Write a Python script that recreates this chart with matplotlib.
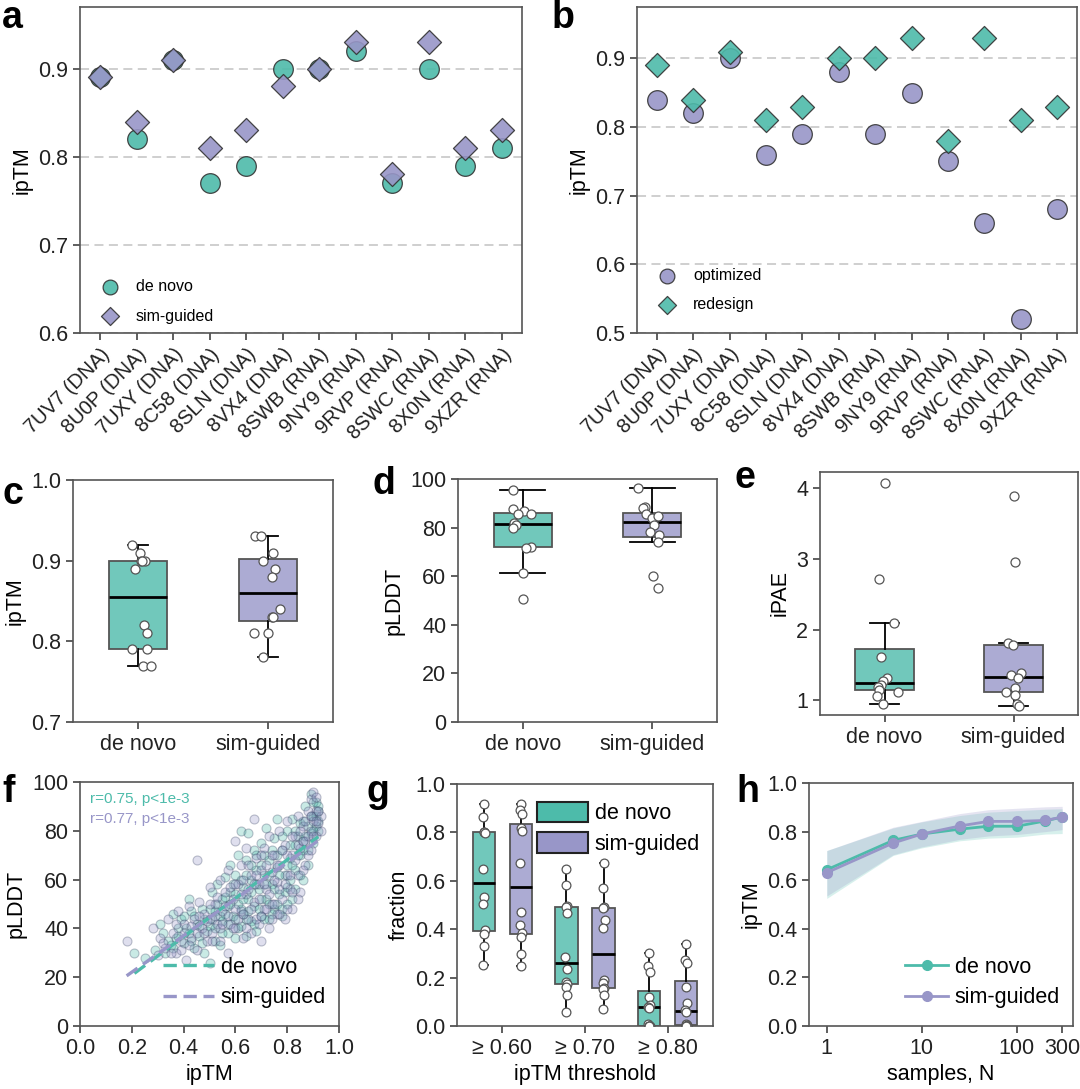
import numpy as np
import matplotlib
matplotlib.use("Agg")
import matplotlib.pyplot as plt
from matplotlib.colors import to_rgba
from matplotlib.patches import Patch

plt.rcParams['font.family'] = ['Liberation Sans', 'DejaVu Sans']
plt.rcParams['font.size'] = 15

TEAL = "#4DBBAA"
PURPLE = "#9896C8"

# ---- panel a / b : per-target ipTM
targets = ["7UV7 (DNA)", "8U0P (DNA)", "7UXY (DNA)", "8C58 (DNA)", "8SLN (DNA)", "8VX4 (DNA)",
           "8SWB (RNA)", "9NY9 (RNA)", "9RVP (RNA)", "8SWC (RNA)", "8X0N (RNA)", "9XZR (RNA)"]
iptm_denovo = [0.89, 0.82, 0.91, 0.77, 0.79, 0.90, 0.90, 0.92, 0.77, 0.90, 0.79, 0.81]
iptm_simguided = [0.89, 0.84, 0.91, 0.81, 0.83, 0.88, 0.90, 0.93, 0.78, 0.93, 0.81, 0.83]
iptm_optimized = [0.84, 0.82, 0.90, 0.76, 0.79, 0.88, 0.79, 0.85, 0.75, 0.66, 0.52, 0.68]
iptm_redesign = [0.89, 0.84, 0.91, 0.81, 0.83, 0.90, 0.90, 0.93, 0.78, 0.93, 0.81, 0.83]

# ---- panel c jitter (read from strip points)
jit_c_denovo = [-0.02, 0.045, 0.013, 0.035, -0.05, 0.02, 0.05, -0.05, 0.10, 0.03, 0.067, 0.067]
jit_c_sim = [0.05, 0.096, 0.04, -0.11, 0.027, 0.03, -0.035, -0.10, -0.035, -0.056, 0.0, 0.035]

# ---- panel d : pLDDT
plddt_denovo = [95.5, 87.5, 86.8, 85.6, 85.4, 82.0, 81.0, 80.0, 72.1, 71.7, 61.4, 50.7]
plddt_sim = [96.2, 88.6, 87.9, 85.5, 83.8, 84.9, 81.1, 78.3, 77.0, 74.2, 60.2, 55.3]
jit_d_denovo = [-0.072, -0.072, 0.013, -0.039, 0.062, -0.064, -0.05, -0.075, 0.064, 0.026, 0.003, 0.0]
jit_d_sim = [-0.108, -0.057, -0.075, -0.049, 0.0, 0.046, 0.015, -0.018, 0.051, 0.041, 0.008, 0.041]

# ---- panel e : iPAE
ipae_denovo = [4.07, 2.72, 2.09, 1.61, 1.32, 1.27, 1.22, 1.19, 1.15, 1.11, 1.06, 0.95]
ipae_sim = [3.89, 2.96, 1.81, 1.78, 1.39, 1.36, 1.31, 1.17, 1.12, 1.08, 0.95, 0.92]
jit_e_denovo = [0.005, -0.04, 0.072, -0.027, 0.019, -0.013, -0.027, -0.053, -0.04, 0.101, -0.061, -0.013]
jit_e_sim = [0.0, 0.013, -0.045, -0.005, 0.059, -0.019, 0.032, 0.013, -0.061, 0.013, 0.027, 0.04]

# ---- panel f : ipTM vs pLDDT of all samples
f_denovo = [(0.21,30),(0.25,28),(0.29,31),(0.31,42),(0.32,38),(0.33,30),(0.35,33),(0.36,46),(0.37,36),
            (0.38,40),(0.39,44),(0.40,45),(0.40,34),(0.42,52),(0.42,38),(0.43,47),(0.44,32),(0.45,42),
            (0.46,37),(0.47,48),(0.48,30),(0.48,44),(0.50,26),(0.50,41),(0.51,55),(0.52,35),(0.52,47),
            (0.53,58),(0.54,33),(0.55,43),(0.55,52),(0.56,61),(0.57,38),(0.57,49),(0.58,66),(0.58,55),
            (0.59,45),(0.60,36),(0.60,62),(0.61,70),(0.61,50),(0.62,41),(0.62,80),(0.63,57),(0.63,46),
            (0.64,68),(0.64,37),(0.65,79),(0.65,52),(0.66,60),(0.66,43),(0.67,72),(0.67,49),(0.68,64),
            (0.68,39),(0.69,56),(0.70,75),(0.70,45),(0.71,62),(0.72,52),(0.72,81),(0.73,68),(0.73,44),
            (0.74,58),(0.75,77),(0.75,48),(0.76,65),(0.76,85),(0.77,54),(0.78,72),(0.78,45),(0.79,62),
            (0.80,80),(0.80,57),(0.81,69),(0.82,85),(0.82,52),(0.83,74),(0.83,64),(0.84,78),(0.85,70),
            (0.85,83),(0.86,60),(0.86,76),(0.87,90),(0.88,72),(0.88,82),(0.89,95),(0.89,79),(0.90,86),
            (0.90,75),(0.91,92),(0.91,82),(0.92,88),(0.92,80),
            (0.34,35),(0.36,32),(0.38,37),(0.41,40),(0.43,35),(0.44,45),(0.46,41),(0.47,34),(0.49,39),
            (0.50,48),(0.51,44),(0.52,40),(0.53,50),(0.54,45),(0.55,38),(0.56,46),(0.56,53),(0.57,42),
            (0.58,50),(0.59,58),(0.60,44),(0.60,54),(0.61,40),(0.62,48),(0.62,60),(0.63,52),(0.64,44),
            (0.64,62),(0.65,47),(0.66,55),(0.66,66),(0.67,42),(0.68,58),(0.68,70),(0.69,48),(0.70,52),
            (0.70,66),(0.71,44),(0.71,70),(0.72,58),(0.73,50),(0.73,62),(0.74,46),(0.74,72),(0.75,56),
            (0.76,50),(0.76,70),(0.77,62),(0.78,48),(0.78,78),(0.79,55),(0.80,66),(0.80,50),(0.81,74),
            (0.81,60),(0.82,66),(0.83,56),(0.83,80),(0.84,70),(0.85,62),(0.86,72),(0.86,84),(0.87,78),
            (0.88,66),(0.89,86),(0.90,80),(0.90,92),(0.91,86),(0.92,84),(0.92,90)]
f_sim = [(0.18,35),(0.28,40),(0.30,29),(0.31,36),(0.33,32),(0.34,44),(0.36,38),(0.37,30),(0.38,47),
         (0.39,35),(0.40,42),(0.41,27),(0.42,49),(0.43,36),(0.44,44),(0.45,68),(0.45,31),(0.46,51),
         (0.47,40),(0.48,46),(0.49,35),(0.50,57),(0.50,44),(0.51,38),(0.52,50),(0.53,42),(0.54,60),
         (0.54,35),(0.55,47),(0.56,55),(0.57,30),(0.57,64),(0.58,42),(0.59,52),(0.60,76),(0.60,40),
         (0.61,58),(0.62,47),(0.62,66),(0.63,36),(0.64,54),(0.64,73),(0.65,44),(0.66,62),(0.66,38),
         (0.67,85),(0.67,51),(0.68,69),(0.69,42),(0.69,58),(0.70,64),(0.70,35),(0.71,73),(0.71,48),
         (0.72,56),(0.73,78),(0.73,40),(0.74,63),(0.74,50),(0.75,70),(0.76,46),(0.76,59),(0.77,80),
         (0.77,66),(0.78,52),(0.79,74),(0.79,44),(0.80,62),(0.80,84),(0.81,56),(0.82,70),(0.82,48),
         (0.83,78),(0.84,62),(0.84,86),(0.85,55),(0.85,73),(0.86,82),(0.87,66),(0.87,76),(0.88,88),
         (0.88,70),(0.89,80),(0.89,93),(0.90,84),(0.90,96),(0.91,78),(0.91,88),(0.92,83),(0.93,86),
         (0.32,34),(0.35,30),(0.37,42),(0.39,31),(0.40,38),(0.42,33),(0.43,41),(0.45,38),(0.46,45),
         (0.48,38),(0.49,43),(0.50,50),(0.51,35),(0.52,45),(0.53,53),(0.54,40),(0.55,42),(0.56,49),
         (0.57,45),(0.58,57),(0.59,40),(0.60,48),(0.60,58),(0.61,44),(0.62,54),(0.63,60),(0.63,46),
         (0.64,40),(0.65,56),(0.65,66),(0.66,48),(0.67,58),(0.68,44),(0.68,62),(0.69,52),(0.70,70),
         (0.70,45),(0.71,58),(0.72,48),(0.72,66),(0.73,54),(0.74,44),(0.74,70),(0.75,60),(0.75,50),
         (0.76,66),(0.77,46),(0.77,56),(0.78,72),(0.79,58),(0.80,48),(0.80,70),(0.81,62),(0.82,55),
         (0.82,78),(0.83,68),(0.84,52),(0.84,74),(0.85,80),(0.86,64),(0.86,76),(0.87,84),(0.88,78),
         (0.89,72),(0.89,86),(0.90,78),(0.91,84),(0.91,94),(0.92,88),(0.93,80)]

# ---- panel g : fraction above ipTM threshold
thresholds = ["≥ 0.60", "≥ 0.70", "≥ 0.80"]
frac_denovo = [
    [0.916, 0.865, 0.803, 0.80, 0.796, 0.648, 0.534, 0.503, 0.396, 0.382, 0.330, 0.251],
    [0.647, 0.581, 0.497, 0.49, 0.465, 0.286, 0.235, 0.180, 0.175, 0.161, 0.127, 0.058],
    [0.300, 0.248, 0.224, 0.12, 0.087, 0.080, 0.075, 0.01, 0.0, 0.0, 0.0, 0.0],
]
frac_sim = [
    [0.916, 0.892, 0.874, 0.819, 0.806, 0.674, 0.472, 0.419, 0.385, 0.368, 0.299, 0.248],
    [0.674, 0.572, 0.492, 0.486, 0.44, 0.406, 0.189, 0.178, 0.156, 0.154, 0.127, 0.072],
    [0.338, 0.273, 0.262, 0.160, 0.094, 0.065, 0.057, 0.01, 0.005, 0.0, 0.0, 0.0],
]
jit_g = [0.0, -0.01, 0.008, -0.004, 0.012, -0.012, 0.004, -0.008, 0.01, -0.002, 0.006, -0.006]

# ---- panel h : best ipTM vs number of samples
samples = [1, 5, 10, 25, 50, 100, 200, 300]
h_denovo = [0.643, 0.764, 0.79, 0.81, 0.822, 0.822, 0.844, 0.86]
h_denovo_lo = [0.525, 0.702, 0.733, 0.762, 0.773, 0.777, 0.790, 0.792]
h_denovo_hi = [0.722, 0.815, 0.840, 0.866, 0.880, 0.886, 0.892, 0.894]
h_sim = [0.631, 0.753, 0.79, 0.823, 0.842, 0.842, 0.846, 0.86]
h_sim_lo = [0.535, 0.705, 0.737, 0.768, 0.782, 0.788, 0.800, 0.808]
h_sim_hi = [0.722, 0.818, 0.842, 0.874, 0.890, 0.896, 0.902, 0.904]

W, H = 1080, 1089
TICK = 15.5
fig = plt.figure(figsize=(W / 100, H / 100), dpi=100)


def add_ax(l, r, t, b):
    return fig.add_axes([l / W, 1 - b / H, (r - l) / W, (b - t) / H])


def style(ax):
    for s in ax.spines.values():
        s.set_color('#555555')
        s.set_linewidth(1.2)
    ax.tick_params(direction='out', length=5, width=1.1, color='#333333',
                   labelsize=TICK, labelcolor='#222222')


def label(x, y, s):
    fig.text(x / W, 1 - y / H, s, fontsize=27, fontweight='bold', va='top', ha='left')


def boxes(ax, data, pos, cols, width, capw):
    bp = ax.boxplot(data, positions=pos, widths=width, patch_artist=True, showfliers=False,
                    capwidths=capw, medianprops=dict(color='black', lw=2),
                    whiskerprops=dict(color='black', lw=1.3), capprops=dict(color='black', lw=1.3),
                    boxprops=dict(edgecolor='#555555', lw=1.3))
    for p, c in zip(bp['boxes'], cols):
        p.set_facecolor(to_rgba(c, 0.8))
    return bp


def strip(ax, vals, x0, jit, s=42):
    xs = [x0 + j for j in jit[:len(vals)]]
    ax.scatter(xs, vals, s=s, facecolor='white', edgecolor='#555555', lw=0.9, zorder=5)


def dashed_grid(ax):
    ax.yaxis.grid(True, ls=(0, (5, 3)), color='#cccccc', lw=1.3)
    ax.set_axisbelow(True)


# ---------------- a
ax = add_ax(80, 522, 7, 333)
style(ax)
dashed_grid(ax)
x = np.arange(len(targets))
ax.scatter(x, iptm_denovo, s=200, marker='o', color=TEAL, alpha=0.9, edgecolor='#333333', lw=0.9,
           label='de novo', zorder=3)
ax.scatter(x, iptm_simguided, s=150, marker='D', color=PURPLE, alpha=0.9, edgecolor='#333333', lw=0.9,
           label='sim-guided', zorder=4)
ax.set_xlim(-0.55, 11.55)
ax.set_ylim(0.6, 0.97)
ax.set_yticks([0.6, 0.7, 0.8, 0.9])
ax.set_xticks(x)
ax.set_xticklabels(targets, rotation=45, ha='right', rotation_mode='anchor', fontsize=14.5)
ax.set_ylabel('ipTM', fontsize=TICK)
ax.legend(loc='lower left', bbox_to_anchor=(0.0, -0.015), frameon=False, fontsize=11.5, markerscale=0.75,
          handletextpad=0.6, labelspacing=0.9)
label(2, 0, 'a')

# ---------------- b
ax = add_ax(637, 1077, 7, 333)
style(ax)
dashed_grid(ax)
ax.scatter(x, iptm_optimized, s=200, marker='o', color=PURPLE, alpha=0.9, edgecolor='#333333', lw=0.9,
           label='optimized', zorder=3)
ax.scatter(x, iptm_redesign, s=150, marker='D', color=TEAL, alpha=0.9, edgecolor='#333333', lw=0.9,
           label='redesign', zorder=4)
ax.set_xlim(-0.55, 11.55)
ax.set_ylim(0.5, 0.975)
ax.set_yticks([0.5, 0.6, 0.7, 0.8, 0.9])
ax.set_xticks(x)
ax.set_xticklabels(targets, rotation=45, ha='right', rotation_mode='anchor', fontsize=14.5)
ax.set_ylabel('ipTM', fontsize=TICK)
ax.legend(loc='lower left', bbox_to_anchor=(0.0, 0.02), frameon=False, fontsize=11.5, markerscale=0.75,
          handletextpad=0.6, labelspacing=0.9)
label(552, 0, 'b')

# ---------------- c
ax = add_ax(73, 333, 480, 722)
style(ax)
boxes(ax, [iptm_denovo, iptm_simguided], [0, 1], [TEAL, PURPLE], 0.45, 0.16)
strip(ax, iptm_denovo, 0, jit_c_denovo)
strip(ax, iptm_simguided, 1, jit_c_sim)
ax.set_xlim(-0.5, 1.5)
ax.set_ylim(0.7, 1.0)
ax.set_yticks([0.7, 0.8, 0.9, 1.0])
ax.set_xticks([0, 1])
ax.set_xticklabels(['de novo', 'sim-guided'])
ax.set_ylabel('ipTM', fontsize=TICK)
label(2, 476, 'c')

# ---------------- d
ax = add_ax(458, 717, 479, 722)
style(ax)
boxes(ax, [plddt_denovo, plddt_sim], [0, 1], [TEAL, PURPLE], 0.45, 0.35)
strip(ax, plddt_denovo, 0, jit_d_denovo)
strip(ax, plddt_sim, 1, jit_d_sim)
ax.set_xlim(-0.5, 1.5)
ax.set_ylim(0, 100)
ax.set_yticks(range(0, 101, 20))
ax.set_xticks([0, 1])
ax.set_xticklabels(['de novo', 'sim-guided'])
ax.set_ylabel('pLDDT', fontsize=TICK)
label(372, 466, 'd')

# ---------------- e
ax = add_ax(820, 1078, 472, 715)
style(ax)
boxes(ax, [ipae_denovo, ipae_sim], [0, 1], [TEAL, PURPLE], 0.46, 0.23)
strip(ax, ipae_denovo, 0, jit_e_denovo)
strip(ax, ipae_sim, 1, jit_e_sim)
ax.set_xlim(-0.5, 1.5)
ax.set_ylim(0.79, 4.23)
ax.set_yticks([1, 2, 3, 4])
ax.set_xticks([0, 1])
ax.set_xticklabels(['de novo', 'sim-guided'])
ax.set_ylabel('iPAE', fontsize=TICK)
label(735, 460, 'e')

# ---------------- f
ax = add_ax(80, 339, 782, 1026)
style(ax)
fd = np.array(f_denovo, dtype=float)
fs = np.array(f_sim, dtype=float)
ax.scatter(fd[:, 0], fd[:, 1], s=42, color=TEAL, edgecolor='#2f3b5c', lw=0.8, alpha=0.3, zorder=2)
ax.scatter(fs[:, 0], fs[:, 1], s=42, color=PURPLE, edgecolor='#2f3b5c', lw=0.8, alpha=0.3, zorder=2)
for arr, c, lab in [(fd, TEAL, 'de novo'), (fs, PURPLE, 'sim-guided')]:
    k, b0 = np.polyfit(arr[:, 0], arr[:, 1], 1)
    xx = np.array([arr[:, 0].min(), arr[:, 0].max()])
    ax.plot(xx, k * xx + b0, ls=(0, (4, 2)), color=c, lw=2.4, label=lab, zorder=4)
ax.text(0.04, 0.93, 'r=0.75, p<1e-3', transform=ax.transAxes, color=TEAL, fontsize=11, va='center')
ax.text(0.04, 0.85, 'r=0.77, p<1e-3', transform=ax.transAxes, color=PURPLE, fontsize=11, va='center')
ax.set_xlim(0, 1)
ax.set_ylim(0, 100)
ax.set_xticks([0, 0.2, 0.4, 0.6, 0.8, 1.0])
ax.set_xticklabels(['0.0', '0.2', '0.4', '0.6', '0.8', '1.0'])
ax.set_yticks(range(0, 101, 20))
ax.set_xlabel('ipTM', fontsize=TICK)
ax.set_ylabel('pLDDT', fontsize=TICK)
ax.legend(loc='lower right', bbox_to_anchor=(1.0, 0.02), frameon=False, fontsize=TICK,
          handlelength=2.4, handletextpad=0.3, labelspacing=0.45, borderaxespad=0.2)
label(2, 774, 'f')

# ---------------- g
ax = add_ax(457, 713, 784, 1026)
style(ax)
pos = np.arange(len(thresholds))
boxes(ax, frac_denovo, pos - 0.225, [TEAL] * 3, 0.27, 0.09)
boxes(ax, frac_sim, pos + 0.225, [PURPLE] * 3, 0.27, 0.09)
for i in range(len(thresholds)):
    strip(ax, frac_denovo[i], pos[i] - 0.225, jit_g, s=40)
    strip(ax, frac_sim[i], pos[i] + 0.225, jit_g, s=40)
ax.set_xlim(-0.55, 2.55)
ax.set_ylim(0, 1)
ax.set_yticks([0, 0.2, 0.4, 0.6, 0.8, 1.0])
ax.set_yticklabels(['0.0', '0.2', '0.4', '0.6', '0.8', '1.0'])
ax.set_xticks(pos)
ax.set_xticklabels(thresholds)
ax.set_xlabel('ipTM threshold', fontsize=TICK)
ax.set_ylabel('fraction', fontsize=TICK)
handles = [Patch(facecolor=TEAL, edgecolor='#222222', lw=1.5, label='de novo'),
           Patch(facecolor=PURPLE, edgecolor='#222222', lw=1.5, label='sim-guided')]
ax.legend(handles=handles, loc='upper right', bbox_to_anchor=(1.0, 0.98), frameon=False, fontsize=TICK,
          handlelength=2.4, handleheight=1.1, handletextpad=0.3, labelspacing=0.35, borderaxespad=0.2)
label(366, 774, 'g')

# ---------------- h
ax = add_ax(809, 1073, 783, 1026)
style(ax)
ax.fill_between(samples, h_denovo_lo, h_denovo_hi, color=TEAL, alpha=0.22, lw=0)
ax.fill_between(samples, h_sim_lo, h_sim_hi, color=PURPLE, alpha=0.25, lw=0)
ax.plot(samples, h_denovo, '-o', color=TEAL, lw=2, ms=7, label='de novo')
ax.plot(samples, h_sim, '-o', color=PURPLE, lw=2, ms=7, label='sim-guided')
ax.set_xscale('log')
ax.set_xlim(0.65, 390)
ax.set_ylim(0, 1)
ax.set_xticks([1, 10, 100, 300])
ax.set_xticklabels(['1', '10', '100', '300'])
ax.minorticks_off()
ax.set_yticks([0, 0.2, 0.4, 0.6, 0.8, 1.0])
ax.set_yticklabels(['0.0', '0.2', '0.4', '0.6', '0.8', '1.0'])
ax.set_xlabel('samples, N', fontsize=TICK)
ax.set_ylabel('ipTM', fontsize=TICK)
ax.legend(loc='lower right', bbox_to_anchor=(1.0, 0.02), frameon=False, fontsize=TICK,
          handlelength=2.0, handletextpad=0.3, labelspacing=0.45, borderaxespad=0.2)
label(736, 774, 'h')

fig.savefig('out.png', dpi=100)
